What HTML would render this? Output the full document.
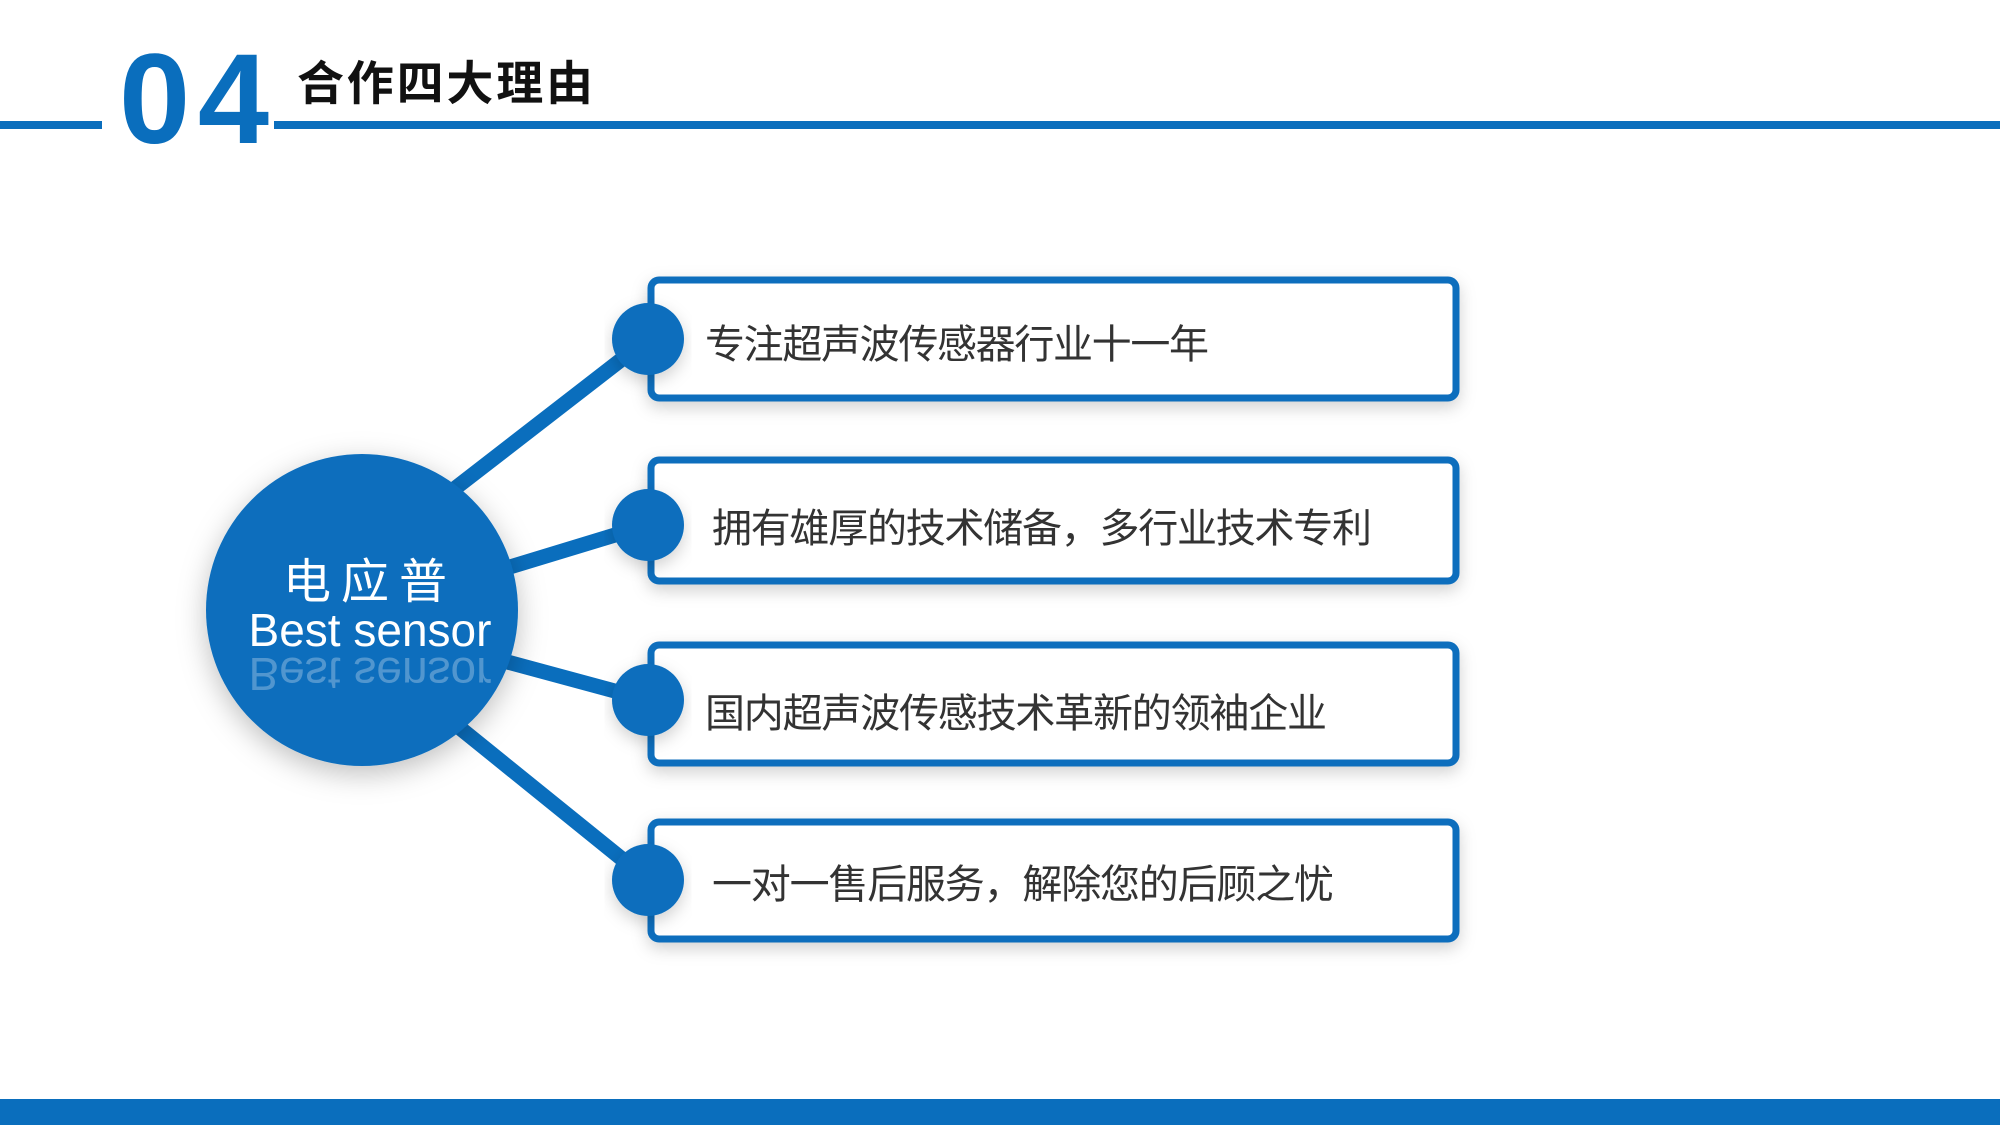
<!DOCTYPE html>
<html><head><meta charset="utf-8"><style>
html,body{margin:0;padding:0;background:#fff;}
svg{display:block;}
</style></head><body>
<svg width="2000" height="1125" viewBox="0 0 2000 1125" xmlns="http://www.w3.org/2000/svg">
<defs>
<filter id="sh" x="-10%" y="-20%" width="120%" height="150%">
<feDropShadow dx="0" dy="6" stdDeviation="8" flood-color="#000" flood-opacity="0.18"/>
</filter>
<filter id="sh2" x="-30%" y="-30%" width="160%" height="160%">
<feDropShadow dx="0" dy="8" stdDeviation="14" flood-color="#000" flood-opacity="0.25"/>
</filter>
</defs>
<rect x="0" y="121" width="102" height="8" fill="#0a6ebd"/>
<rect x="274" y="121" width="1726" height="8" fill="#0a6ebd"/>
<text x="119" y="143" font-family="Liberation Sans, sans-serif" font-weight="bold" font-size="128" fill="#0a6ebd" textLength="150">04</text>
<text x="297" y="100" font-family="Liberation Sans, Noto Sans CJK SC, sans-serif" font-weight="bold" font-size="47" fill="#111" textLength="296">合作四大理由</text>

<g stroke="#0a6ebd" stroke-width="15" stroke-linecap="round">
<line x1="440" y1="500" x2="648" y2="339"/>
<line x1="500" y1="570" x2="648" y2="525"/>
<line x1="500" y1="660" x2="648" y2="700"/>
<line x1="450" y1="720" x2="648" y2="880"/>
</g>

<g filter="url(#sh)" fill="#fff" stroke="#0a6ebd" stroke-width="7">
<rect x="651" y="280" width="805" height="118" rx="8"/>
<rect x="651" y="460" width="805" height="121" rx="8"/>
<rect x="651" y="645" width="805" height="118" rx="8"/>
<rect x="651" y="822" width="805" height="117" rx="8"/>
</g>
<g fill="#0a6ebd" filter="url(#sh)">
<circle cx="648" cy="339" r="36"/>
<circle cx="648" cy="525" r="36"/>
<circle cx="648" cy="700" r="36"/>
<circle cx="648" cy="880" r="36"/>
</g>
<g font-family="Liberation Sans, Noto Sans CJK SC, sans-serif" font-size="40" fill="#333">
<text x="705" y="358" textLength="504">专注超声波传感器行业十一年</text>
<text x="712" y="542" textLength="660">拥有雄厚的技术储备，多行业技术专利</text>
<text x="705" y="727" textLength="622">国内超声波传感技术革新的领袖企业</text>
<text x="712" y="898" textLength="622">一对一售后服务，解除您的后顾之忧</text>
</g>

<circle cx="362" cy="610" r="156" fill="#0a6ebd" filter="url(#sh2)"/>
<g font-family="Liberation Sans, Noto Sans CJK SC, sans-serif" fill="#fff" text-anchor="middle">
<text x="370" y="598" font-size="48" letter-spacing="10">电应普</text>
<text x="370" y="646" font-size="46">Best sensor</text>
<g transform="translate(0,1304) scale(1,-1)" opacity="0.28">
<text x="370" y="646" font-size="46">Best sensor</text>
</g>
</g>

<rect x="0" y="1099" width="2000" height="26" fill="#0a6ebd"/>
</svg>
</body></html>
